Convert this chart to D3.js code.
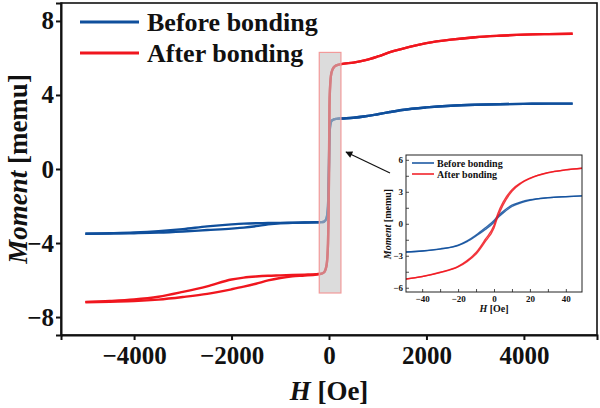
<!DOCTYPE html>
<html>
<head>
<meta charset="UTF-8"/>
<script src="https://d3js.org/d3.v7.min.js"></script>
<style>
body{ margin:0; background:#fff; }
svg{ font-family:"Liberation Serif","Times New Roman",serif; font-weight:bold; }
</style>
</head>
<body>
<svg id="plot" width="600" height="408"></svg>
<script>
'use strict';
// field values (Oe)
var hNeg = [-5000,-4500,-4000,-3500,-3000,-2500,-2000,-1750,-1500,-1250,-1000,-750,-500,-250];
var hMid = [-150,-100,-50,-20,-10,0,5,10,20,50,100,150,250,500,750,1000,1250,1500,2000,2500,3000,3500,4000,4500,5000];
// negative side, two branches
var beforeDown = [-3.50,-3.47,-3.43,-3.36,-3.25,-3.10,-2.99,-2.95,-2.93,-2.92,-2.91,-2.90,-2.89,-2.88];
var beforeUp   = [-3.50,-3.49,-3.47,-3.44,-3.38,-3.30,-3.22,-3.17,-3.09,-2.99,-2.93,-2.91,-2.89,-2.88];
var afterDown  = [-7.18,-7.13,-7.05,-6.90,-6.64,-6.34,-5.97,-5.87,-5.81,-5.77,-5.75,-5.73,-5.71,-5.68];
var afterUp    = [-7.20,-7.17,-7.14,-7.06,-6.92,-6.75,-6.50,-6.36,-6.20,-6.02,-5.89,-5.80,-5.76,-5.70];
// shared part (switching + positive side)
var beforeMid = [-2.87,-2.84,-2.65,-2.0,-1.0,0.3,1.2,1.8,2.25,2.6,2.68,2.71,2.73,2.77,2.85,2.96,3.08,3.19,3.33,3.42,3.47,3.50,3.52,3.53,3.53];
var afterMid  = [-5.65,-5.58,-5.2,-4.0,-2.7,-0.2,2.1,3.4,4.3,5.2,5.5,5.6,5.67,5.75,5.88,6.08,6.31,6.49,6.80,6.99,7.12,7.20,7.26,7.29,7.31];

// inset (zoom around zero)
var insetH = [-50,-40,-30,-20,-15,-10,-5,0,2,5,10,15,20,30,40,50];
var insetBefore1 = [-2.65,-2.55,-2.35,-2.0,-1.6,-1.05,-0.4,0.3,0.7,1.15,1.75,2.05,2.25,2.45,2.55,2.62];
var insetBefore2 = [-2.65,-2.56,-2.38,-2.05,-1.68,-1.15,-0.55,0.15,0.55,1.0,1.62,1.97,2.2,2.43,2.54,2.62];
var insetAfter1  = [-5.2,-4.95,-4.55,-4.0,-3.45,-2.7,-1.5,-0.15,0.9,2.0,3.2,3.85,4.28,4.8,5.06,5.22];
var insetAfter2  = [-5.2,-4.96,-4.58,-4.05,-3.55,-2.85,-1.7,-0.4,0.6,1.75,3.05,3.78,4.24,4.78,5.05,5.22];

var seriesNames = ['Before bonding','After bonding'];
var colors = ['#0f4f9c','#f0161e'];
var xTicks = [-4000,-2000,0,2000,4000];
var yTicks = [-8,-4,0,4,8];
var insetXTicks = [-40,-20,0,20,40];
var insetYTicks = [-6,-3,0,3,6];
var zoomBox = [[-200,-6.7],[245,6.3]];

function pairs(h, m){ return h.map(function(d,i){ return [d, m[i]]; }); }

var svg = d3.select('#plot');
var x = d3.scaleLinear().domain([-5500,5500]).range([61,597]);
var y = d3.scaleLinear().domain([-8.97,8.97]).range([335,3]);

var line = d3.line().x(function(d){return x(d[0]);}).y(function(d){return y(d[1]);}).curve(d3.curveMonotoneX);

var branches = [
  [pairs(hNeg, beforeDown).concat(pairs(hMid, beforeMid)), 0],
  [pairs(hNeg, beforeUp).concat(pairs(hMid, beforeMid)), 0],
  [pairs(hNeg, afterDown).concat(pairs(hMid, afterMid)), 1],
  [pairs(hNeg, afterUp).concat(pairs(hMid, afterMid)), 1]
];
svg.append('g').selectAll('path').data(branches).enter().append('path')
  .attr('d', function(d){ return line(d[0]); })
  .attr('fill','none')
  .attr('stroke', function(d){ return colors[d[1]]; })
  .attr('stroke-width', 2.4);

// grey zoom box
svg.append('rect')
  .attr('x', x(zoomBox[0][0])).attr('y', y(zoomBox[1][1]))
  .attr('width', x(zoomBox[1][0]) - x(zoomBox[0][0]))
  .attr('height', y(zoomBox[0][1]) - y(zoomBox[1][1]))
  .attr('fill','#c4c4c4').attr('fill-opacity',0.6)
  .attr('stroke','#f29a9a').attr('stroke-width',1.2);

// frame
svg.append('rect').attr('x',61).attr('y',3).attr('width',536).attr('height',332)
  .attr('fill','none').attr('stroke','#111').attr('stroke-width',1.6);

var xAxis = d3.axisBottom(x).tickValues(xTicks).tickSize(5).tickPadding(6)
  .tickFormat(function(d){ return d < 0 ? '\u2212' + Math.abs(d) : d; });
var gx = svg.append('g').attr('transform','translate(0,335)').call(xAxis);
var yAxis = d3.axisLeft(y).tickValues(yTicks).tickSize(5).tickPadding(2)
  .tickFormat(function(d){ return d < 0 ? '\u2212' + Math.abs(d) : d; });
var gy = svg.append('g').attr('transform','translate(61,0)').call(yAxis);
[gx, gy].forEach(function(g){
  g.select('.domain').attr('stroke','#111').attr('stroke-width',2);
  g.selectAll('.tick line').attr('stroke','#111').attr('stroke-width',2);
  g.selectAll('.tick text').attr('fill','#111').style('font-size','25px')
    .style('font-family','"Liberation Serif",serif').style('font-weight','bold');
});

// axis titles
var xt = svg.append('text').attr('x',329).attr('y',400).attr('text-anchor','middle')
  .style('font-size','27px').attr('fill','#111');
xt.append('tspan').style('font-style','italic').text('H');
xt.append('tspan').text(' [Oe]');
var yt = svg.append('text').attr('transform','translate(27,169) rotate(-90)')
  .attr('text-anchor','middle').style('font-size','27px').attr('fill','#111');
yt.append('tspan').style('font-style','italic').text('Moment');
yt.append('tspan').text(' [memu]');

// legend
var leg = svg.append('g').selectAll('g').data(seriesNames).enter().append('g')
  .attr('transform', function(d,i){ return 'translate(80,' + (22 + i*31) + ')'; });
leg.append('line').attr('x1',0).attr('x2',59).attr('y1',0).attr('y2',0)
  .attr('stroke', function(d,i){ return colors[i]; }).attr('stroke-width',3);
leg.append('text').attr('x',67).attr('y',9).style('font-size','26px').attr('fill','#111')
  .text(function(d){ return d; });

// arrow
svg.append('defs').append('marker').attr('id','ah').attr('viewBox','0 0 10 10')
  .attr('refX',9).attr('refY',5).attr('markerWidth',9).attr('markerHeight',7)
  .attr('markerUnits','userSpaceOnUse').attr('orient','auto')
  .append('path').attr('d','M0,0L10,5L0,10z').attr('fill','#111');
svg.append('line').attr('x1',390).attr('y1',173).attr('x2',346).attr('y2',152)
  .attr('stroke','#111').attr('stroke-width',1.2).attr('marker-end','url(#ah)');

// inset
var ix = d3.scaleLinear().domain([-49,49]).range([406,582]);
var iy = d3.scaleLinear().domain([-6.4,6.45]).range([292,155]);
var inset = svg.append('g');
inset.append('rect').attr('x',406).attr('y',155).attr('width',176).attr('height',137).attr('fill','#fff');
svg.select('defs').append('clipPath').attr('id','ic').append('rect')
  .attr('x',406).attr('y',155).attr('width',176).attr('height',137);
var iline = d3.line().x(function(d){return ix(d[0]);}).y(function(d){return iy(d[1]);}).curve(d3.curveMonotoneX);
var insetSeries = [[insetBefore1,0],[insetBefore2,0],[insetAfter1,1],[insetAfter2,1]];
inset.append('g').attr('clip-path','url(#ic)').selectAll('path').data(insetSeries).enter().append('path')
  .attr('d', function(d){ return iline(pairs(insetH, d[0])); })
  .attr('fill','none').attr('stroke', function(d){ return colors[d[1]]; })
  .attr('stroke-width',1.4).attr('stroke-opacity',0.85);

var ixAxis = d3.axisBottom(ix).tickValues(d3.range(-40,50,10)).tickSize(-3).tickPadding(4)
  .tickFormat(function(d){ return insetXTicks.indexOf(d) < 0 ? '' : (d < 0 ? '\u2212' + Math.abs(d) : d); });
var igx = inset.append('g').attr('transform','translate(0,292)').call(ixAxis);
var iyAxis = d3.axisLeft(iy).tickValues(d3.range(-6,7,1.5)).tickSize(-3).tickPadding(3)
  .tickFormat(function(d){ return insetYTicks.indexOf(d) < 0 ? '' : (d < 0 ? '\u2212' + Math.abs(d) : d); });
var igy = inset.append('g').attr('transform','translate(406,0)').call(iyAxis);
[igx, igy].forEach(function(g){
  g.select('.domain').remove();
  g.selectAll('.tick line').attr('stroke','#222').attr('stroke-width',0.8);
  g.selectAll('.tick text').attr('fill','#111').style('font-size','9px')
    .style('font-family','"Liberation Serif",serif').style('font-weight','bold');
});
inset.append('rect').attr('x',406).attr('y',155).attr('width',176).attr('height',137)
  .attr('fill','none').attr('stroke','#222').attr('stroke-width',1);

var ixt = inset.append('text').attr('x',494).attr('y',312).attr('text-anchor','middle')
  .style('font-size','10px').attr('fill','#111');
ixt.append('tspan').style('font-style','italic').text('H');
ixt.append('tspan').text(' [Oe]');
var iyt = inset.append('text').attr('transform','translate(391,224) rotate(-90)')
  .attr('text-anchor','middle').style('font-size','10px').attr('fill','#111');
iyt.append('tspan').style('font-style','italic').text('Moment');
iyt.append('tspan').text(' [memu]');

var ileg = inset.append('g').selectAll('g').data(seriesNames).enter().append('g')
  .attr('transform', function(d,i){ return 'translate(412,' + (163 + i*11) + ')'; });
ileg.append('line').attr('x1',0).attr('x2',22).attr('y1',0).attr('y2',0)
  .attr('stroke', function(d,i){ return colors[i]; }).attr('stroke-width',1.5);
ileg.append('text').attr('x',25).attr('y',3.5).style('font-size','10px').attr('fill','#111')
  .text(function(d){ return d; });
</script>
</body>
</html>
